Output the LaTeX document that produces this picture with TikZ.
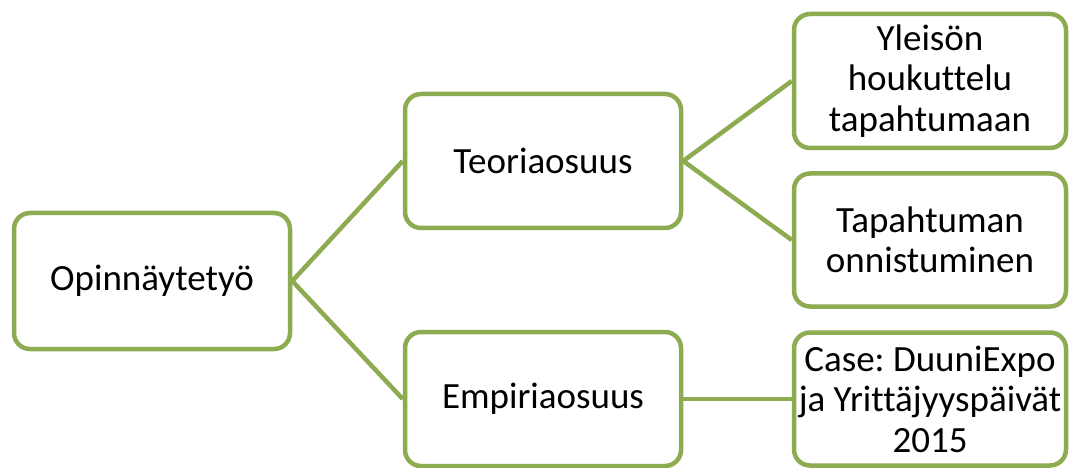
\documentclass[tikz,border=0pt]{standalone}
\usepackage{fontspec}
\setmainfont[Ligatures={NoCommon}]{Carlito}
\usetikzlibrary{positioning}
\definecolor{LeafGreen}{RGB}{141,171,80}
\frenchspacing

\begin{document}
\begin{tikzpicture}[x=1pt, y=-1pt,
          block/.style={rectangle, draw=LeafGreen, fill=white, line width=4.5pt, rounded corners=16pt, minimum width=276pt, minimum height=136pt, align=center, inner sep=2pt, font=\fontsize{37}{44}\selectfont},
          leaf/.style={block, minimum width=272pt, minimum height=133pt, font=\fontsize{37}{40.5}\selectfont},
          link/.style={LeafGreen, line width=4.5pt}
        ]
          \useasboundingbox (0,0) rectangle (1080,468);

          \node (root) [block] at (152,281) {Opinnäytetyö};
          \node (theory) [block, minimum height=134pt] at (543,161) {Teoriaosuus};
          \node (empiric) [block, minimum height=134pt] at (543,399) {Empiriaosuus};

          \node (t1) [leaf, minimum height=134pt] at (930,81) {Yleisön\\houkuttelu\\tapahtumaan};
          \node (t2) [leaf] at (930,240) {Tapahtuman\\onnistuminen};
          \node (e1) [leaf] at (930,399) {Case: DuuniExpo\\ja Yrittäjyyspäivät\\2015};

          \draw[link] (root.east) -- (theory.west);
          \draw[link] (root.east) -- (empiric.west);
          \draw[link] (theory.east) -- (t1.west);
          \draw[link] (theory.east) -- (t2.west);
          \draw[link] (empiric.east) -- (e1.west);
        \end{tikzpicture}
\end{document}
